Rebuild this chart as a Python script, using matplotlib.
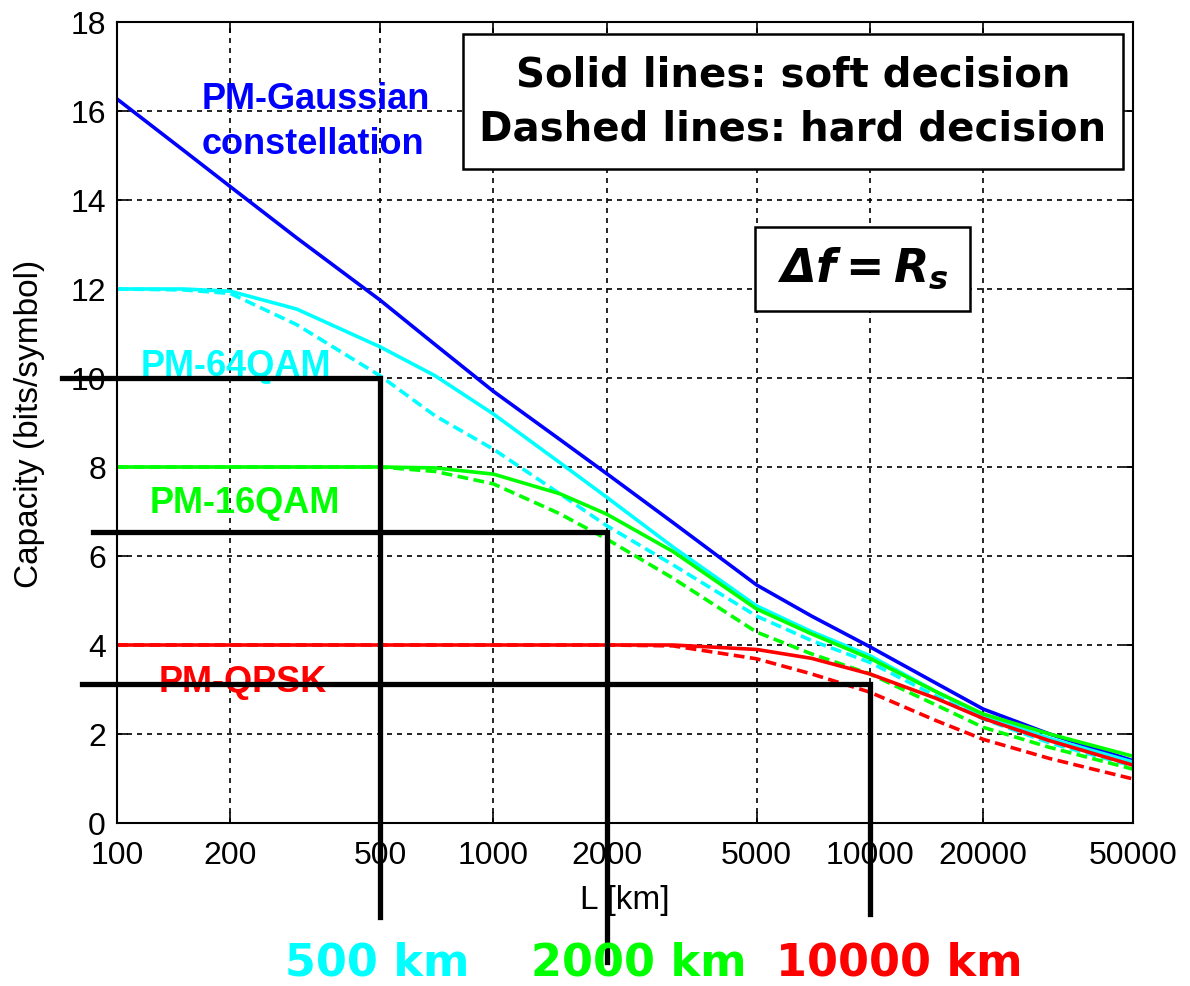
import numpy as np
import matplotlib.pyplot as plt
from matplotlib import font_manager
from matplotlib.patches import Rectangle

# distance axis (km)
L_km = [100, 150, 200, 300, 500, 700, 1000, 1500, 2000, 3000, 5000, 7000, 10000, 15000, 20000, 30000, 50000]

# capacity (bits/symbol)
gauss_soft = [16.27, 15.12, 14.3, 13.15, 11.75, 10.75, 9.7, 8.62, 7.85, 6.75, 5.35, 4.65, 3.96, 3.14, 2.56, 2.0, 1.4]
qam64_soft = [12.0, 12.0, 11.95, 11.55, 10.7, 10.05, 9.19, 8.1, 7.32, 6.2, 4.88, 4.3, 3.76, 2.95, 2.41, 1.9, 1.37]
qam64_hard = [12.0, 11.98, 11.9, 11.2, 10.05, 9.15, 8.4, 7.4, 6.68, 5.8, 4.65, 4.1, 3.61, 2.85, 2.34, 1.8, 1.28]
qam16_soft = [8.0, 8.0, 8.0, 8.0, 8.0, 7.98, 7.84, 7.4, 6.94, 6.1, 4.81, 4.25, 3.7, 2.95, 2.45, 2.0, 1.5]
qam16_hard = [8.0, 8.0, 8.0, 8.0, 8.0, 7.9, 7.62, 6.95, 6.38, 5.5, 4.29, 3.8, 3.35, 2.65, 2.15, 1.7, 1.21]
qpsk_soft = [4.0, 4.0, 4.0, 4.0, 4.0, 4.0, 4.0, 4.0, 4.0, 4.0, 3.9, 3.7, 3.35, 2.8, 2.35, 1.85, 1.3]
qpsk_hard = [4.0, 4.0, 4.0, 4.0, 4.0, 4.0, 4.0, 4.0, 4.0, 3.98, 3.69, 3.35, 2.94, 2.3, 1.88, 1.45, 0.99]

x_ticks = [100, 200, 500, 1000, 2000, 5000, 10000, 20000, 50000]
y_ticks = [0, 2, 4, 6, 8, 10, 12, 14, 16, 18]

# reach markers: distance, capacity level, line start / bottom (beyond the axes)
reach_km = [500, 2000, 10000]
reach_cap = [10.0, 6.55, 3.12]
reach_x0 = [71.4, 86.3, 80.7]
reach_y0 = [-2.11, -3.12, -2.04]
reach_txt = ['500 km', '2000 km', '10000 km']
reach_col = ['#00FFFF', '#00FF00', '#FF0000']
reach_xpos = [377, 639, 899]

BLUE, CYAN, GREEN, RED = '#0000FF', '#00FFFF', '#00FF00', '#FF0000'

names = {f.name for f in font_manager.fontManager.ttflist}
narrow = 'Liberation Sans Narrow' if 'Liberation Sans Narrow' in names else 'DejaVu Sans'
plt.rcParams['font.family'] = ['Liberation Sans', 'DejaVu Sans']
plt.rcParams['mathtext.fontset'] = 'custom'
plt.rcParams['mathtext.rm'] = 'DejaVu Sans:italic:bold'
plt.rcParams['mathtext.it'] = 'DejaVu Sans:italic:bold'

fig = plt.figure(figsize=(11.9, 9.87), dpi=100)
ax = fig.add_axes([117 / 1190, 1 - 824 / 987, 1016 / 1190, 801 / 987])

lw = 2.6
dash = (0, (3, 1.5))
ax.plot(L_km, gauss_soft, color=BLUE, lw=lw)
ax.plot(L_km, qam64_soft, color=CYAN, lw=lw)
ax.plot(L_km, qam64_hard, color=CYAN, lw=lw, ls=dash)
ax.plot(L_km, qam16_soft, color=GREEN, lw=lw)
ax.plot(L_km, qam16_hard, color=GREEN, lw=lw, ls=dash)
ax.plot(L_km, qpsk_soft, color=RED, lw=lw)
ax.plot(L_km, qpsk_hard, color=RED, lw=lw, ls=dash)

ax.set_xscale('log')
ax.set_xlim(100, 50000)
ax.set_ylim(0, 18)
ax.set_xticks(x_ticks)
ax.set_xticklabels([str(v) for v in x_ticks])
ax.xaxis.set_minor_locator(plt.NullLocator())
ax.set_yticks(y_ticks)
ax.set_yticklabels([str(v) for v in y_ticks])
ax.tick_params(direction='in', length=8, width=1.2, labelsize=23, top=True, right=True)
ax.tick_params(axis='x', pad=12)
ax.tick_params(axis='y', pad=8)
ax.grid(True, color='black', ls=(0, (3, 3)), lw=1.2)
for s in ax.spines.values():
    s.set_linewidth(1.5)
ax.set_xlabel('L [km]', fontsize=24, labelpad=10)
ax.set_ylabel('Capacity (bits/symbol)', fontsize=24, labelpad=18)

# curve labels
ax.text(168, 16.29, 'PM-Gaussian', color=BLUE, fontsize=26, fontweight='bold', ha='left', va='center')
ax.text(168, 15.26, 'constellation', color=BLUE, fontsize=26, fontweight='bold', ha='left', va='center')
ax.text(207, 10.27, 'PM-64QAM', color=CYAN, fontsize=26, fontweight='bold', ha='center', va='center')
ax.text(218, 7.21, 'PM-16QAM', color=GREEN, fontsize=26, fontweight='bold', ha='center', va='center')
ax.text(216, 3.19, 'PM-QPSK', color=RED, fontsize=26, fontweight='bold', ha='center', va='center')

# legend box
ax.add_patch(Rectangle((0.3406, 0.8165), 0.6494, 0.1685, transform=ax.transAxes,
                       facecolor='white', edgecolor='black', lw=1.8, zorder=5))
ax.text(0.6653, 0.935, 'Solid lines: soft decision', transform=ax.transAxes, ha='center', va='center',
        fontsize=29, fontweight='bold', family=narrow, zorder=6)
ax.text(0.6653, 0.8665, 'Dashed lines: hard decision', transform=ax.transAxes, ha='center', va='center',
        fontsize=29, fontweight='bold', family=narrow, zorder=6)

# delta f box
ax.add_patch(Rectangle((0.628, 0.639), 0.2116, 0.105, transform=ax.transAxes,
                       facecolor='white', edgecolor='black', lw=1.8, zorder=5))
ax.text(0.734, 0.694, r'$\Delta f = R_s$', transform=ax.transAxes, ha='center', va='center',
        fontsize=33, zorder=6)

# reach markers
for km, cap, x0, y0 in zip(reach_km, reach_cap, reach_x0, reach_y0):
    ax.plot([x0, km, km], [cap, cap, y0], color='black', lw=3.8, clip_on=False, zorder=7,
            solid_joinstyle='miter')

for txt, col, xp in zip(reach_txt, reach_col, reach_xpos):
    fig.text(xp / 1190, 1 - 963 / 987, txt, color=col, fontsize=32, fontweight='bold',
             family='DejaVu Sans', ha='center', va='center')

fig.savefig('out.png', dpi=100)
